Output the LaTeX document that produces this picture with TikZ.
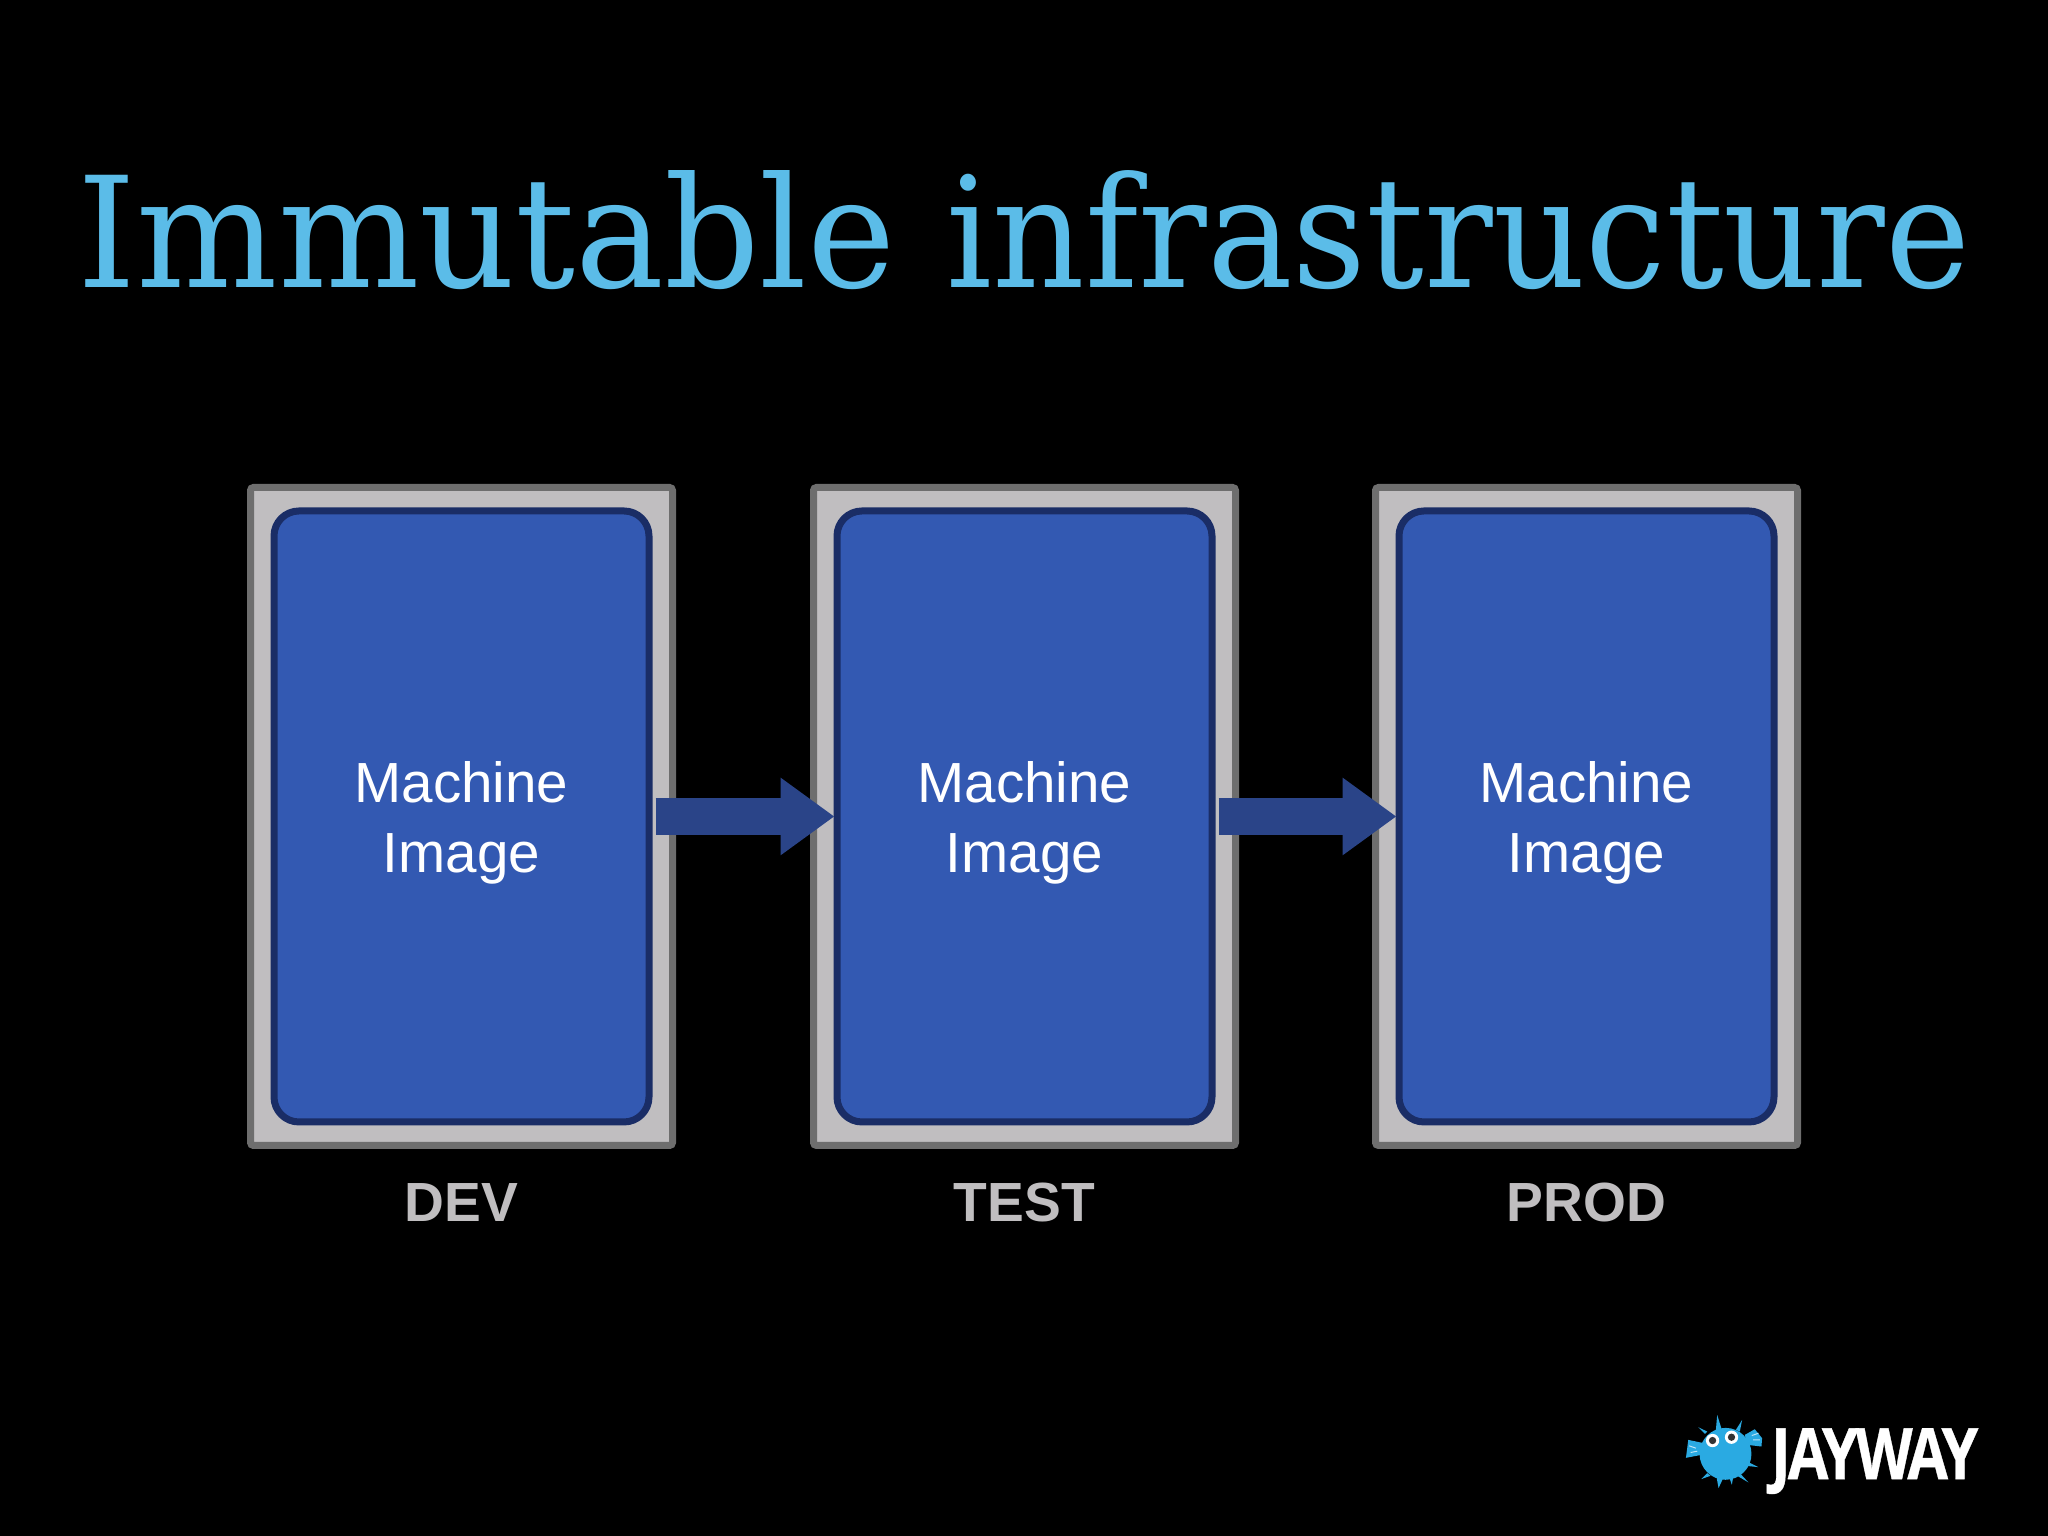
\documentclass[tikz,border=0pt]{standalone}
\usepackage{fontspec}
\usepackage{graphicx}
\setmainfont{Liberation Sans}
\newfontfamily\titlefont{DejaVu Serif}
\newfontfamily\logofont[UprightFont=* Bold,LetterSpace=-5,FakeBold=.6]{Open Sans}
\usetikzlibrary{arrows.meta}
\definecolor{titleblue}{HTML}{5BBCE8}
\definecolor{imageblue}{HTML}{3359B2}
\definecolor{imageedge}{HTML}{1A2D66}
\definecolor{arrowblue}{HTML}{2A4488}
\definecolor{boxgray}{HTML}{C0BEC0}
\definecolor{boxedge}{HTML}{6E6E6E}
\definecolor{fishblue}{HTML}{2AAAE2}
\tikzset{
  envbox/.style={draw=boxedge,fill=boxgray,line width=.07cm,rounded corners=.03cm,
    minimum width=4.22cm,minimum height=6.58cm,inner sep=0},
  imagebox/.style={draw=imageedge,fill=imageblue,line width=.07cm,rounded corners=.25cm,
    minimum width=3.75cm,minimum height=6.11cm,inner sep=0},
  imagetext/.style={yshift=-.065cm,text=white,align=center,inner sep=0,
    font=\fontsize{16.1}{19.7}\selectfont},
  envlabel/.style={text=boxgray,font=\fontsize{15.7}{19}\selectfont\bfseries},
  promote/.style={draw=arrowblue,line width=.37cm,shorten <=.03cm,shorten >=-.01cm,
    -{Triangle[length=.54cm,width=.74cm]}},
  fishpart/.style={fill=fishblue,draw=none}
}
\begin{document}
\begin{tikzpicture}
  \fill[black] (0,0) rectangle (20.48,15.36);
  \useasboundingbox (0,0) rectangle (20.48,15.36);
  \node[text=titleblue,anchor=base,inner sep=0,font=\titlefont] (title) at (10.24,12.48)
    {\resizebox{8.18cm}{1.17cm}{Immutable}\hspace{.51cm}\resizebox{10.23cm}{1.17cm}{infrastructure}};

  \node[envbox] (devbox) at (4.615,7.195) {};
  \node[envbox] (testbox) at (10.245,7.195) {};
  \node[envbox] (prodbox) at (15.865,7.195) {};
  \node[imagebox] (devimage) at (devbox) {};
  \node[imagebox] (testimage) at (testbox) {};
  \node[imagebox] (prodimage) at (prodbox) {};
  \node[imagetext] (devtext) at (devimage) {Machine\\Image};
  \node[imagetext] (testtext) at (testimage) {Machine\\Image};
  \node[imagetext] (prodtext) at (prodimage) {Machine\\Image};
  \node[envlabel] (devlabel) at (4.615,3.33) {DEV};
  \node[envlabel] (testlabel) at (10.245,3.33) {TEST};
  \node[envlabel] (prodlabel) at (15.865,3.33) {PROD};

  \draw[promote] (devimage) -- (testimage);
  \draw[promote] (testimage) -- (prodimage);

  % logo
  \begin{scope}[shift={(16.6,1.46)},x=.0033333cm,y=-.0033333cm]
    \fill[fishpart] (197,192) circle (78);
    \fill[fishpart] (132,160) -- (85,150) -- (78,204) -- (125,195) -- cycle;
    \fill[fishpart] (262,165) -- (305,170) -- (307,145) -- (285,118) -- (255,135) -- cycle;
    \fill[fishpart] (168,120) -- (172,75) -- (186,120) -- cycle;
    \fill[fishpart] (228,120) -- (247,90) -- (240,125) -- cycle;
    \fill[fishpart] (135,132) -- (115,112) -- (142,125) -- cycle;
    \fill[fishpart] (262,215) -- (296,232) -- (258,228) -- cycle;
    \fill[fishpart] (240,250) -- (266,278) -- (232,258) -- cycle;
    \fill[fishpart] (208,262) -- (216,285) -- (220,262) -- cycle;
    \fill[fishpart] (170,262) -- (176,295) -- (190,265) -- cycle;
    \fill[fishpart] (142,250) -- (124,268) -- (152,258) -- cycle;
    \fill[white] (158,152) circle (20) (215,142) circle (20);
    \fill[black!80] (158,152) circle (11) (215,142) circle (11);
    \draw[white!70!fishblue,line width=.01cm] (88,168) -- (108,175) (92,188) -- (112,184)
      (276,137) -- (296,130) (280,150) -- (300,150);
    \node[anchor=base west,inner sep=0,text=white] (logotext) at (332,268)
      {\logofont\fontsize{20.2}{24}\selectfont\scalebox{.83}[1]{JAYWAY}};
  \end{scope}
\end{tikzpicture}
\end{document}
